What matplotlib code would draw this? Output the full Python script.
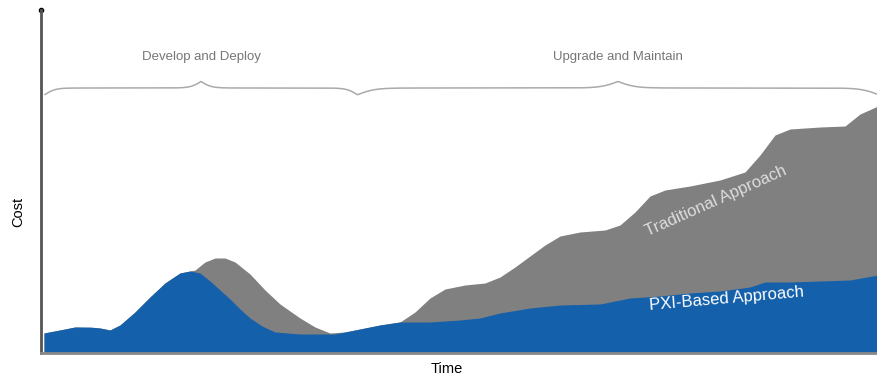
import numpy as np
import matplotlib.pyplot as plt

plt.rcParams['font.family'] = ['Liberation Sans', 'DejaVu Sans']

# time axis positions and cost levels
pxi_time = [3, 19, 34, 49, 59, 69, 79, 94, 109, 124, 139, 149, 159, 169, 179,
            189, 199, 209, 221, 234, 259, 279, 294, 309, 324, 339, 359, 389,
            419, 439, 459, 489, 519, 559, 589, 619, 649, 679, 709, 724, 749,
            779, 809, 837]
pxi_cost = [20, 23, 26, 26, 25, 23, 28, 41, 56, 70, 80, 82, 80, 72, 63,
            54, 44, 35, 27, 21, 19, 19, 19, 22, 25, 28, 31, 31,
            33, 35, 40, 45, 48, 49, 55, 57, 60, 62, 66, 71, 71,
            72, 73, 78]

trad_time = [3, 34, 59, 69, 79, 94, 109, 124, 139, 149, 154, 164, 174, 184,
             194, 209, 224, 239, 259, 274, 289, 304, 319, 339, 359, 374, 389,
             404, 424, 444, 459, 474, 489, 504, 519, 539, 564, 579, 594, 609,
             624, 649, 679, 704, 719, 734, 749, 779, 804, 819, 837]
trad_cost = [20, 26, 25, 23, 28, 41, 56, 70, 80, 82, 83, 91, 95, 95,
             91, 79, 63, 49, 35, 26, 20, 21, 24, 28, 31, 41, 55,
             64, 68, 70, 76, 86, 97, 108, 117, 121, 123, 128, 141, 157,
             163, 167, 173, 181, 198, 218, 224, 226, 227, 239, 247]

phases = ["Develop and Deploy", "Upgrade and Maintain"]
phase_span = [(4, 316), (317, 837)]

blue = '#1460aa'
gray = '#808080'


def brace(ax, x0, x1, y, h, color='#aaaaaa'):
    # curly brace pointing up, tip in the middle
    w = x1 - x0
    half = np.linspace(0, 0.5, 300)
    beta = 60.0
    yh = 1 / (1 + np.exp(-beta * (half - half[0]))) + 1 / (1 + np.exp(-beta * (half - half[-1])))
    xs = np.concatenate((half, 1 - half[::-1])) * w + x0
    ys = np.concatenate((yh, yh[::-1]))
    ys = y + (ys - 1.0) * h
    ax.plot(xs, ys, color=color, lw=1.1)


fig = plt.figure(figsize=(8.78, 3.78), dpi=100)
ax = fig.add_axes([41 / 878, 25 / 378, 837 / 878, 343 / 378])

ax.fill_between(trad_time, 0, trad_cost, color=gray, lw=0)
ax.fill_between(pxi_time, 0, pxi_cost, color=blue, lw=0)

for name, (a, b) in zip(phases, phase_span):
    brace(ax, a, b, 265, 13)
    ax.text((a + b) / 2, 296, name, ha='center', va='center', fontsize=9.5, color='#777777')

ax.text(675, 152, "Traditional Approach", rotation=24, ha='center', va='center',
        fontsize=12, color='#dddddd')
ax.text(686, 54, "PXI-Based Approach", rotation=5, ha='center', va='center',
        fontsize=12, color='white')

ax.set_xlim(0, 837)
ax.set_ylim(0, 343)
ax.set_xticks([])
ax.set_yticks([])
ax.spines['top'].set_visible(False)
ax.spines['right'].set_visible(False)
ax.spines['left'].set_color('#555555')
ax.spines['left'].set_linewidth(2)
ax.spines['bottom'].set_color('#888888')
ax.spines['bottom'].set_linewidth(2)
ax.plot([0], [343], 'o', color='black', ms=3, clip_on=False)

fig.text(18 / 878, 1 - 212 / 378, "Cost", rotation=90, ha='center', va='center', fontsize=10.5)
fig.text(447 / 878, 1 - 369 / 378, "Time", ha='center', va='center', fontsize=10.5)

fig.savefig('out.png', dpi=100)
